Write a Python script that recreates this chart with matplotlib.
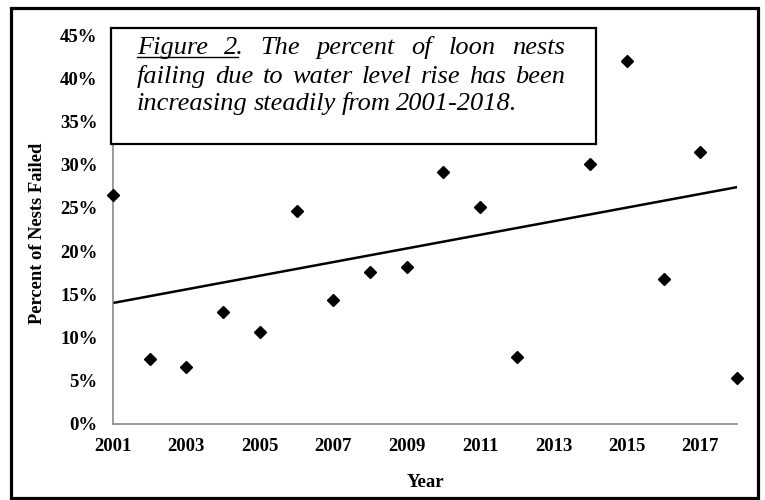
import matplotlib
matplotlib.use("Agg")
import matplotlib.pyplot as plt
from matplotlib.patches import Rectangle
from matplotlib.lines import Line2D

# ---- data ----
years = [2001, 2002, 2003, 2004, 2005, 2006, 2007, 2008, 2009,
         2010, 2011, 2012, 2014, 2015, 2016, 2017, 2018]
pct_failed = [26.5, 7.5, 6.6, 13.0, 10.6, 24.6, 14.4, 17.6, 18.2,
              29.2, 25.1, 7.8, 30.1, 42.0, 16.8, 31.5, 5.3]
trend_years = [2001, 2018]
trend_pct = [14.0, 27.4]

x_ticks = list(range(2001, 2018, 2))
y_ticks = [0, 5, 10, 15, 20, 25, 30, 35, 40, 45]
y_tick_labels = [f"{v}%" for v in y_ticks]

caption_lines = [
    ["Figure", "2.", "The", "percent", "of", "loon", "nests"],
    ["failing", "due", "to", "water", "level", "rise", "has", "been"],
    ["increasing", "steadily", "from", "2001-2018."],
]

W, H = 765, 500
SERIF = "Liberation Serif"

fig = plt.figure(figsize=(W / 100, H / 100), dpi=100)
ax = fig.add_axes([113 / W, 76 / H, 624 / W, 389 / H])

ax.plot(years, pct_failed, "D", color="black", markersize=6, clip_on=False, zorder=3)
ax.plot(trend_years, trend_pct, "-", color="black", lw=1.8)

ax.set_xlim(2001, 2018)
ax.set_ylim(0, 45)
ax.set_xticks(x_ticks)
ax.set_yticks(y_ticks)
ax.set_yticklabels(y_tick_labels)
ax.tick_params(length=0, labelsize=13.5)
ax.tick_params(axis="x", pad=10)
ax.tick_params(axis="y", pad=11)
for lab in ax.get_xticklabels() + ax.get_yticklabels():
    lab.set_family(SERIF)
    lab.set_fontweight("bold")

for s in ["top", "right"]:
    ax.spines[s].set_visible(False)
for s in ["left", "bottom"]:
    ax.spines[s].set_color("#7f7f7f")
    ax.spines[s].set_linewidth(1.1)

ax.set_xlabel("Year", family=SERIF, fontweight="bold", fontsize=13.5, labelpad=14)
fig.text(38 / W, 1 - 233 / H, "Percent of Nests Failed", rotation=90,
         ha="center", va="center", family=SERIF, fontweight="bold", fontsize=13.3)

# outer frame
fig.patches.append(Rectangle((11 / W, 1 - 498 / H), 747 / W, 490 / H,
                             transform=fig.transFigure, fill=False,
                             ec="black", lw=2.3, zorder=5))
# caption box
fig.patches.append(Rectangle((111 / W, 1 - 144 / H), 485 / W, 116 / H,
                             transform=fig.transFigure, fc="white",
                             ec="black", lw=1.6, zorder=5))

# justified caption text
renderer = fig.canvas.get_renderer()
FS = 19
x_left, x_right = 137, 565
baselines = [54, 83, 110]
for li, (words, yb) in enumerate(zip(caption_lines, baselines)):
    arts = [fig.text(0, 1 - yb / H, w, fontsize=FS, style="italic", family=SERIF,
                     va="baseline", ha="left", zorder=6) for w in words]
    widths = [a.get_window_extent(renderer).width for a in arts]
    if li < len(caption_lines) - 1:
        gap = (x_right - x_left - sum(widths)) / (len(words) - 1)
    else:
        gap = 0.22 * FS * 100 / 72
    x = x_left
    xs = []
    for a, wd in zip(arts, widths):
        a.set_x(x / W)
        xs.append(x)
        x += wd + gap
    if li == 0:
        # underline "Figure 2"
        two = fig.text(0, 0, "2", fontsize=FS, style="italic", family=SERIF)
        w2 = two.get_window_extent(renderer).width
        two.remove()
        u_end = xs[1] + w2
        fig.lines.append(Line2D([x_left / W, u_end / W], [1 - (yb + 3) / H] * 2,
                                transform=fig.transFigure, color="black",
                                lw=1.0, zorder=6))

fig.savefig("out.png", dpi=100)
